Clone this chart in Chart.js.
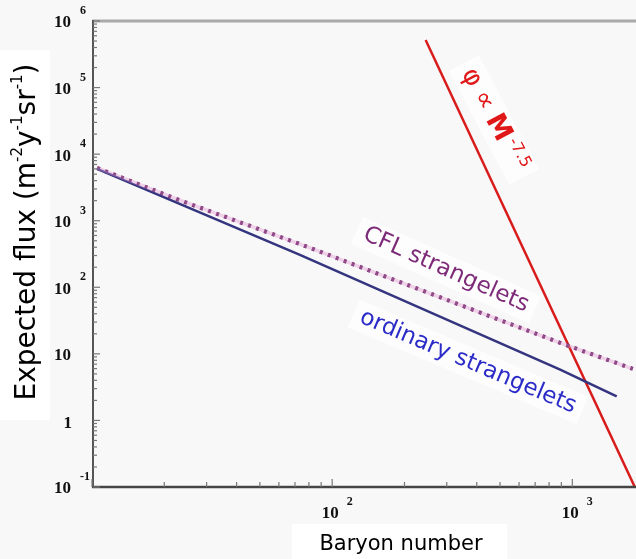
<!DOCTYPE html>
<html>
<head>
<meta charset="utf-8">
<script src="https://cdn.jsdelivr.net/npm/chart.js@4.4.1/dist/chart.umd.min.js"></script>
<style>
html,body{margin:0;padding:0;background:#f8f8f8;}
</style>
</head>
<body>
<canvas id="flux" width="636" height="559"></canvas>
<script>
// values (log-log)
const baryonOrdinary = [10.5, 73, 890, 1530];
const fluxOrdinary   = [6000, 310, 5.8, 2.3];
const baryonCFL = [10.5, 23, 73, 890, 1786];
const fluxCFL   = [6210, 2050, 449, 14.6, 5.96];
const baryonPower = [245, 1820];
const fluxPower   = [5.2e5, 0.1];

const yTickExps = [-1, 0, 1, 2, 3, 4, 5, 6];
const xTickExps = [2, 3];
const xMin = 10, xMax = 1841;
const yMin = 0.1, yMax = 1e6;

const blueLine = '#34347f';
const redLine = '#d81c1c';
const cflDots = '#5e1858';

function pts(xs, ys) {
  return xs.map((v, i) => ({x: v, y: ys[i]}));
}

// text pieces laid out along a rotated baseline
function rotText(ctx, parts, cx, cy, deg, color, box) {
  let w = 0;
  parts.forEach(p => {
    if (p.gap) { w += p.gap; return; }
    ctx.font = p.font;
    p.w = ctx.measureText(p.t).width;
    w += p.w;
  });
  ctx.save();
  ctx.translate(cx, cy);
  ctx.rotate(deg * Math.PI / 180);
  if (box) {
    ctx.fillStyle = 'rgba(255,255,255,0.7)';
    ctx.fillRect(-w / 2 - 8, -box / 2, w + 16, box);
  } else {
    ctx.fillStyle = color;
    ctx.textBaseline = 'middle';
    ctx.textAlign = 'left';
    let x = -w / 2;
    parts.forEach(p => {
      if (p.gap) { x += p.gap; return; }
      ctx.font = p.font;
      ctx.fillText(p.t, x, p.dy || 0);
      x += p.w;
    });
  }
  ctx.restore();
}

const cflLabel = [{t: 'CFL strangelets', font: '23px "DejaVu Sans"'}];
const ordLabel = [{t: 'ordinary strangelets', font: '23px "DejaVu Sans"'}];
const powLabel = [
  {t: '\u03c6', font: '26px "DejaVu Sans"'}, {gap: 8},
  {t: '\u221d', font: '26px "DejaVu Sans"'}, {gap: 8},
  {t: 'M', font: 'bold 27px "DejaVu Sans"'}, {gap: 3},
  {t: '-7.5', font: '16px "DejaVu Sans"', dy: -7}
];

function drawLabels(ctx, box) {
  rotText(ctx, cflLabel, 446, 270, 24, '#7d2a78', box ? 30 : 0);
  rotText(ctx, ordLabel, 468, 362, 23, '#2b2bc8', box ? 30 : 0);
  rotText(ctx, powLabel, 494, 120, 62, '#e01818', box ? 34 : 0);
}

const frame = {
  id: 'frame',
  beforeDraw(chart) {
    const ctx = chart.ctx;
    ctx.save();
    ctx.fillStyle = '#f8f8f8';
    ctx.fillRect(0, 0, chart.width, chart.height);
    ctx.fillStyle = '#ffffff';
    ctx.fillRect(0, 50, 50, 370);
    ctx.fillRect(292, 524, 215, 35);
    ctx.restore();
  },
  beforeDatasetsDraw(chart) {
    drawLabels(chart.ctx, true);
  },
  afterDatasetsDraw(chart) {
    const ctx = chart.ctx, a = chart.chartArea;
    const xs = chart.scales.x, ys = chart.scales.y;
    ctx.save();

    // frame lines
    ctx.strokeStyle = '#aaaaaa';
    ctx.lineWidth = 3;
    ctx.beginPath(); ctx.moveTo(a.left, a.top); ctx.lineTo(a.right, a.top); ctx.stroke();
    ctx.strokeStyle = '#555555';
    ctx.lineWidth = 2;
    ctx.beginPath(); ctx.moveTo(a.left + 1, a.top - 1); ctx.lineTo(a.left + 1, a.bottom); ctx.stroke();
    ctx.strokeStyle = '#444444';
    ctx.lineWidth = 2.5;
    ctx.beginPath(); ctx.moveTo(a.left, a.bottom); ctx.lineTo(a.right, a.bottom); ctx.stroke();

    // ticks, drawn inward
    ctx.strokeStyle = '#777777';
    ctx.lineWidth = 1.2;
    for (let e = -1; e <= 6; e++) {
      for (let m = 1; m <= 9; m++) {
        const v = m * Math.pow(10, e);
        if (v > yMax) break;
        const py = ys.getPixelForValue(v);
        const len = m === 1 ? 7 : 4;
        ctx.beginPath(); ctx.moveTo(a.left + 1, py); ctx.lineTo(a.left + 1 + len, py); ctx.stroke();
      }
    }
    for (let e = 1; e <= 3; e++) {
      for (let m = 1; m <= 9; m++) {
        const v = m * Math.pow(10, e);
        if (v > xMax) break;
        const px = xs.getPixelForValue(v);
        const len = m === 1 ? 8 : 5;
        ctx.beginPath(); ctx.moveTo(px, a.bottom); ctx.lineTo(px, a.bottom - len); ctx.stroke();
      }
    }

    // tick labels
    ctx.fillStyle = '#111111';
    ctx.textBaseline = 'middle';
    const big = 'bold 17px "Liberation Serif"', sup = 'bold 12px "Liberation Serif"';
    yTickExps.forEach(e => {
      const py = ys.getPixelForValue(Math.pow(10, e));
      ctx.textAlign = 'right';
      ctx.font = big;
      if (e === 0) { ctx.fillText('1', 72, py + 3); return; }
      ctx.fillText('10', 71, py + 2);
      if (e === 1) return;
      ctx.textAlign = 'left';
      ctx.font = sup;
      ctx.fillText(String(e), 80, py - 10);
    });
    xTickExps.forEach(e => {
      const px = xs.getPixelForValue(Math.pow(10, e));
      ctx.font = big;
      ctx.textAlign = 'center';
      ctx.fillText('10', px - 2, 514);
      const w = ctx.measureText('10').width;
      ctx.font = sup;
      ctx.textAlign = 'left';
      ctx.fillText(String(e), px - 2 + w / 2 + 8, 502);
    });

    // axis titles
    ctx.fillStyle = '#000000';
    ctx.textAlign = 'center';
    ctx.font = '21px "DejaVu Sans"';
    ctx.fillText('Baryon number', 401, 545);
    rotText(ctx, [
      {t: 'Expected flux (m', font: '28px "DejaVu Sans"'},
      {t: '-2', font: '15px "DejaVu Sans"', dy: -10},
      {t: 'y', font: '28px "DejaVu Sans"'},
      {t: '-1', font: '15px "DejaVu Sans"', dy: -10},
      {t: 'sr', font: '28px "DejaVu Sans"'},
      {t: '-1', font: '15px "DejaVu Sans"', dy: -10},
      {t: ')', font: '28px "DejaVu Sans"'}
    ], 28, 232, -90, '#000000', 0);

    drawLabels(ctx, false);
    ctx.restore();
  }
};

new Chart(document.getElementById('flux'), {
  type: 'line',
  data: {
    datasets: [
      {label: 'CFL halo', data: pts(baryonCFL, fluxCFL), borderColor: 'rgba(225,150,210,0.4)', borderWidth: 3.5},
      {label: 'ordinary strangelets', data: pts(baryonOrdinary, fluxOrdinary), borderColor: blueLine, borderWidth: 2.5},
      {label: 'CFL strangelets', data: pts(baryonCFL, fluxCFL), borderColor: cflDots, borderWidth: 4, borderDash: [3, 5.5]},
      {label: 'M^-7.5', data: pts(baryonPower, fluxPower), borderColor: redLine, borderWidth: 2.5}
    ]
  },
  options: {
    responsive: false,
    animation: false,
    layout: {padding: {left: 92, top: 21, right: 0, bottom: 72}},
    plugins: {legend: {display: false}, tooltip: {enabled: false}},
    elements: {point: {radius: 0}, line: {tension: 0}},
    scales: {
      x: {type: 'logarithmic', min: xMin, max: xMax, display: false},
      y: {type: 'logarithmic', min: yMin, max: yMax, display: false}
    }
  },
  plugins: [frame]
});
</script>
</body>
</html>
